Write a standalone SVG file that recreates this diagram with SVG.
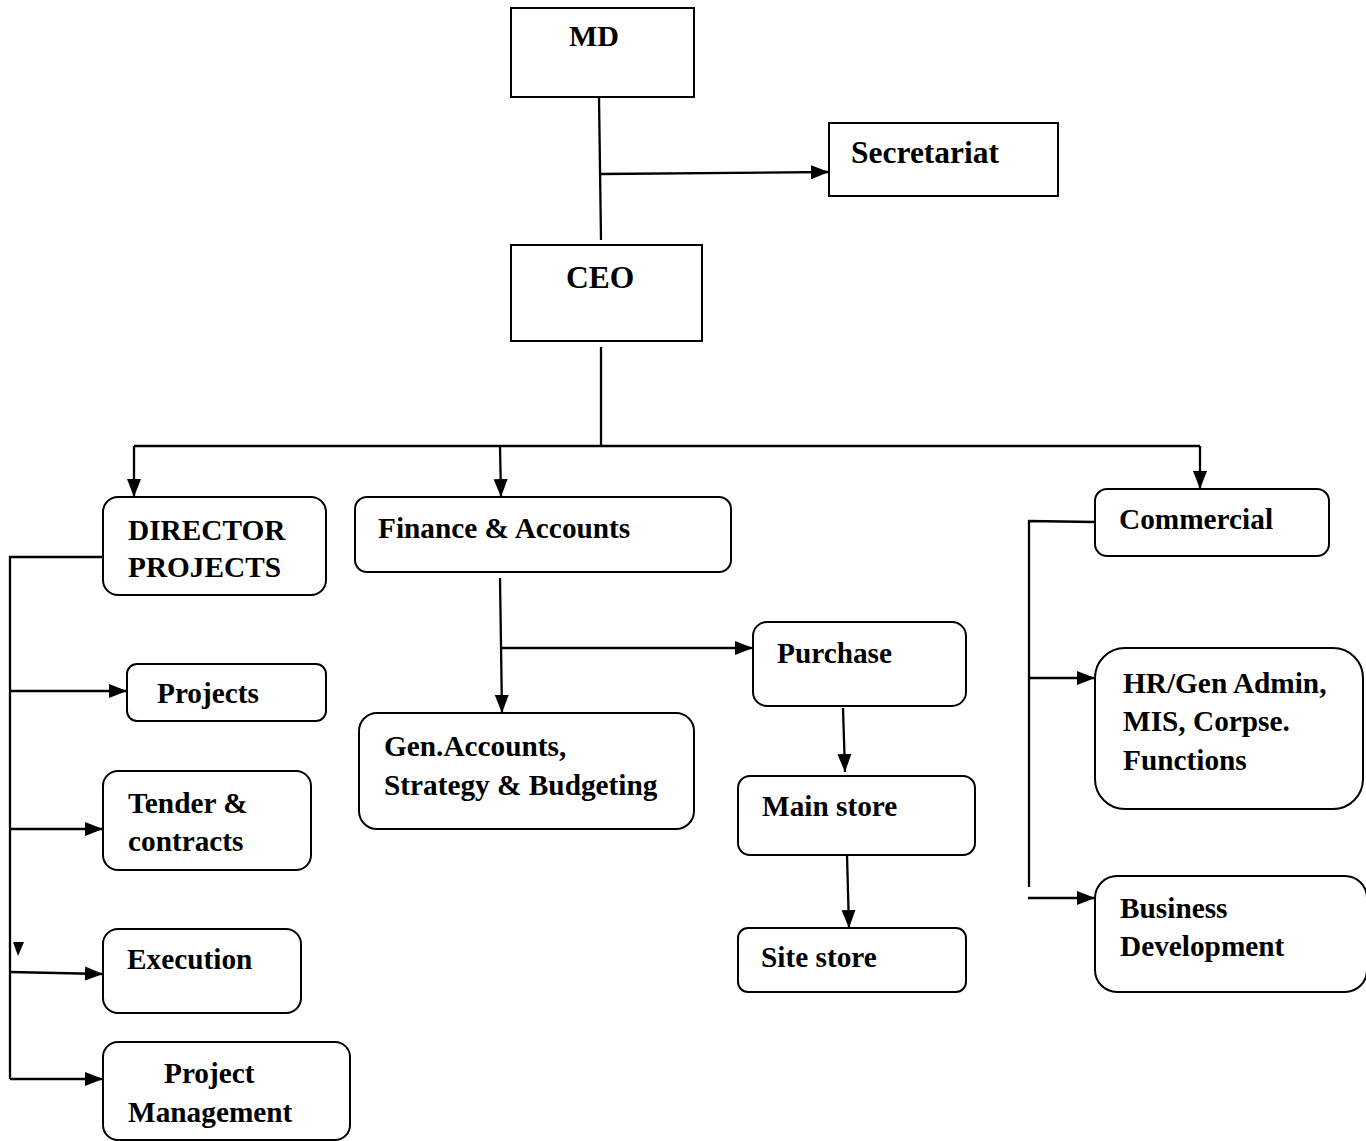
<svg xmlns="http://www.w3.org/2000/svg" width="1366" height="1141" viewBox="0 0 1366 1141">
<defs>
<marker id="arr" markerUnits="userSpaceOnUse" markerWidth="18" markerHeight="16" refX="18" refY="8" orient="auto">
<path d="M0,1 L18,8 L0,15 z" fill="#000"/>
</marker>
<style>
.box{fill:#fff;stroke:#000;stroke-width:2}
.ln{fill:none;stroke:#000;stroke-width:2.3}
.ar{fill:none;stroke:#000;stroke-width:2.3;marker-end:url(#arr)}
text{font-family:"Liberation Serif","Times New Roman",serif;font-weight:bold;font-size:29.3px;fill:#000}
</style>
</defs>
<rect width="1366" height="1141" fill="#fff"/>
<g id="connectors">
<path class="ln" d="M599,97 L601,240"/>
<path class="ar" d="M601,174 L829,172"/>
<path class="ln" d="M601,347 L601,446"/>
<path class="ln" d="M134,446 L1200,446"/>
<path class="ar" d="M134,446 L134,497"/>
<path class="ar" d="M500,446 L501,497"/>
<path class="ar" d="M1200,446 L1200,489"/>
<path class="ln" d="M106,557 L10,557 L10,1079"/>
<path class="ar" d="M10,691 L127,691"/>
<path class="ar" d="M10,829 L103,829"/>
<path class="ar" d="M10,972 L103,974"/>
<path class="ar" d="M10,1079 L103,1079"/>
<polygon points="13,942 24,942 18,956" fill="#000"/>
<path class="ar" d="M500,578 L502,713"/>
<path class="ar" d="M501,648 L753,648"/>
<path class="ar" d="M843,708 L845,772"/>
<path class="ar" d="M847,855 L849,928"/>
<path class="ln" d="M1095,522 L1029,521 L1029,887"/>
<path class="ar" d="M1029,678 L1095,678"/>
<path class="ar" d="M1028,898 L1095,898"/>
</g>
<g id="md"><rect class="box" x="511" y="8" width="183" height="89"/><text x="569" y="46" style="font-size:30px">MD</text></g>
<g id="secretariat"><rect class="box" x="829" y="123" width="229" height="73"/><text x="851" y="163" style="font-size:31.5px">Secretariat</text></g>
<g id="ceo"><rect class="box" x="511" y="245" width="191" height="96"/><text x="566" y="288" style="font-size:31.5px">CEO</text></g>
<g id="director"><rect class="box" x="103" y="497" width="223" height="98" rx="15"/><text x="128" y="540">DIRECTOR</text><text x="128" y="577">PROJECTS</text></g>
<g id="finance"><rect class="box" x="355" y="497" width="376" height="75" rx="12"/><text x="378" y="538">Finance &amp; Accounts</text></g>
<g id="commercial"><rect class="box" x="1095" y="489" width="234" height="67" rx="12"/><text x="1119" y="529">Commercial</text></g>
<g id="projects"><rect class="box" x="127" y="664" width="199" height="57" rx="10"/><text x="157" y="703">Projects</text></g>
<g id="tender"><rect class="box" x="103" y="771" width="208" height="99" rx="15"/><text x="128" y="813">Tender &amp;</text><text x="128" y="851">contracts</text></g>
<g id="execution"><rect class="box" x="103" y="929" width="198" height="84" rx="15"/><text x="127" y="969">Execution</text></g>
<g id="projmgmt"><rect class="box" x="103" y="1042" width="247" height="98" rx="15"/><text x="164" y="1083">Project</text><text x="128" y="1122">Management</text></g>
<g id="genacc"><rect class="box" x="359" y="713" width="335" height="116" rx="18"/><text x="384" y="756">Gen.Accounts,</text><text x="384" y="795">Strategy &amp; Budgeting</text></g>
<g id="purchase"><rect class="box" x="753" y="622" width="213" height="84" rx="14"/><text x="777" y="663">Purchase</text></g>
<g id="mainstore"><rect class="box" x="738" y="776" width="237" height="79" rx="12"/><text x="762" y="816">Main store</text></g>
<g id="sitestore"><rect class="box" x="738" y="928" width="228" height="64" rx="10"/><text x="761" y="967">Site store</text></g>
<g id="hr"><rect class="box" x="1095" y="648" width="268" height="161" rx="30"/><text x="1123" y="693">HR/Gen Admin,</text><text x="1123" y="731">MIS, Corpse.</text><text x="1123" y="770">Functions</text></g>
<g id="bizdev"><rect class="box" x="1095" y="876" width="272" height="116" rx="22"/><text x="1120" y="918">Business</text><text x="1120" y="956">Development</text></g>
</svg>
